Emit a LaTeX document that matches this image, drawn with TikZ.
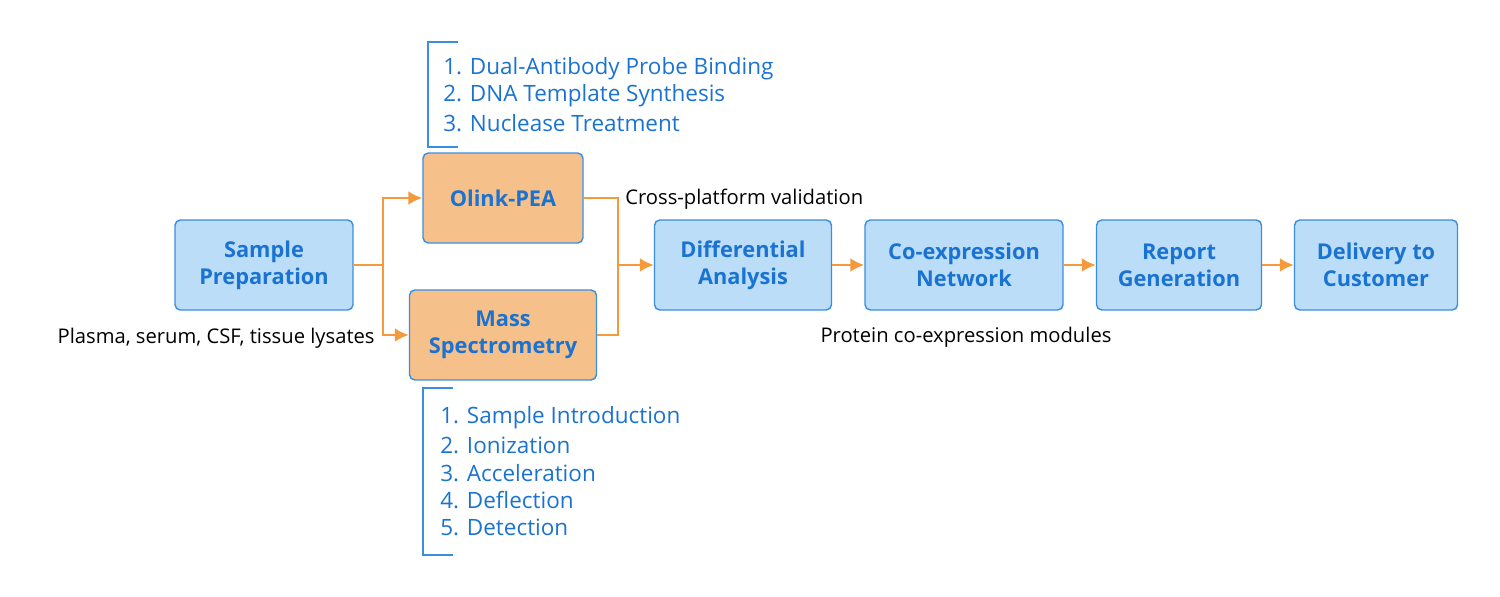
\documentclass[tikz,border=0pt]{standalone}
\usepackage{fontspec}
\setmainfont{Open Sans}
\usetikzlibrary{positioning,arrows.meta}
\definecolor{boxblue}{HTML}{BBDDF8}
\definecolor{edgeblue}{HTML}{3A8EE0}
\definecolor{textblue}{HTML}{1A73D0}
\definecolor{boxorange}{HTML}{F5C08A}
\definecolor{arrorange}{HTML}{F59A3C}
\tikzset{
  stage/.style={draw=edgeblue, thick, fill=boxblue, rounded corners=3pt, align=center,
    text=textblue, font=\fontsize{12.4}{15.5}\selectfont\bfseries, inner sep=0pt, minimum height=1.8cm},
  tech/.style={stage, fill=boxorange},
  flow/.style={draw=arrorange, line width=1.5pt, -{Latex[length=8pt,width=8pt]}},
  link/.style={draw=arrorange, line width=1.5pt},
  brace/.style={draw=edgeblue, line width=1.2pt},
  steps/.style={text=textblue, font=\fontsize{12.8}{15}\selectfont, align=left, anchor=west, inner sep=0pt},
  note/.style={font=\fontsize{11.5}{14}\selectfont, inner sep=0pt}
}
\begin{document}
\begin{tikzpicture}[x=0.02cm, y=-0.02cm]
\useasboundingbox (0,0) rectangle (1500,597);

% Boxes
\node[stage, minimum width=3.56cm] (prep) at (264,265) {Sample\\Preparation};
\node[tech, minimum width=3.2cm] (olink) at (503,198) {Olink-PEA};
\node[tech, minimum width=3.74cm] (mass) at (503,335) {Mass\\Spectrometry};
\node[stage, minimum width=3.54cm] (diff) at (743,265) {Differential\\Analysis};
\node[stage, minimum width=3.96cm] (coex) at (964,265) {Co-expression\\Network};
\node[stage, minimum width=3.3cm] (report) at (1179,265) {Report\\Generation};
\node[stage, minimum width=3.26cm] (deliver) at (1376,265) {Delivery to\\Customer};

% Split and merge
\coordinate (split) at (383,265);
\coordinate (merge) at (618,265);
\draw[link] (prep.east) -- (split);
\draw[flow] (split) |- (olink.west);
\draw[flow] (split) |- (mass.west);
\draw[link] (olink.east) -| (merge);
\draw[link] (mass.east) -| (merge);
\draw[flow] (merge) -- (diff.west);
\draw[flow] (diff) -- (coex);
\draw[flow] (coex) -- (report);
\draw[flow] (report) -- (deliver);

% Step lists
\draw[brace] (458,42) -- (428,42) -- (428,147) -- (458,147);
\node[steps] (olinkA) at (443,69) {1. Dual-Antibody Probe Binding};
\node[steps] (olinkB) at (443,96) {2. DNA Template Synthesis};
\node[steps] (olinkC) at (443,123) {3. Nuclease Treatment};
\draw[brace] (453,388) -- (423,388) -- (423,555) -- (453,555);
\node[steps] (massA) at (440,418) {1. Sample Introduction};
\node[steps] (massB) at (440,445) {2. Ionization};
\node[steps] (massC) at (440,473) {3. Acceleration};
\node[steps] (massD) at (440,500) {4. Deflection};
\node[steps] (massE) at (440,527) {5. Detection};

% Notes
\node[note, anchor=west] (cross) at (625,199) {Cross-platform validation};
\node[note, anchor=east] (input) at (375,338) {Plasma, serum, CSF, tissue lysates};
\node[note] (modules) at (966,337) {Protein co-expression modules};
\end{tikzpicture}
\end{document}
